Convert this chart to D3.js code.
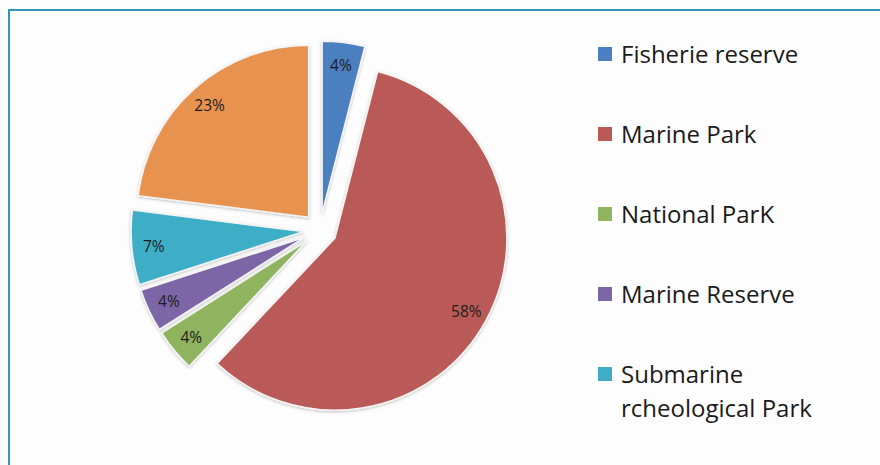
<!DOCTYPE html>
<html>
<head>
<meta charset="utf-8">
<script src="https://cdn.jsdelivr.net/npm/d3@7"></script>
<style>
  body { margin: 0; background: #fff; }
  svg { display: block; }
</style>
</head>
<body>
<div id="chart-area"></div>
<script>
const width = 880, height = 465,
    radius = 172,
    explode = 17;

//--------------------------- DATA
const categories = ["Fisherie reserve", "Marine Park", "National ParK", "Marine Reserve", "Submarine rcheological Park", "Other"];
const values = [4, 58, 4, 4, 7, 23];
const colors = ["#4b7fc0", "#b95a58", "#8fb35f", "#7c66a5", "#3eaec6", "#e7924f"];
// legend shows only the first five entries, last one wraps on two lines
const legendLines = [["Fisherie reserve"], ["Marine Park"], ["National ParK"], ["Marine Reserve"], ["Submarine", "rcheological Park"]];

const data = values.map((v, i) => ({name: categories[i], value: v, color: colors[i]}));

//--------------------------- SVG
const svg = d3.select("#chart-area")
  .append("svg")
    .attr("width", width)
    .attr("height", height);

svg.append("rect")
  .attr("width", width).attr("height", height)
  .attr("fill", "#fdfdfd");

// frame (only top and left edges are visible)
svg.append("path")
  .attr("d", "M9,465 L9,10 L880,10")
  .attr("fill", "none")
  .attr("stroke", "#3196bd")
  .attr("stroke-width", 2);

const defs = svg.append("defs");
const shadow = defs.append("filter").attr("id", "shadow")
  .attr("x", "-20%").attr("y", "-20%").attr("width", "140%").attr("height", "140%");
shadow.append("feDropShadow")
  .attr("dx", 0).attr("dy", 1).attr("stdDeviation", 1.5)
  .attr("flood-color", "#000").attr("flood-opacity", 0.25);

//--------------------------- PIE
const pie = d3.pie().sort(null).value(d => d.value);
const arc = d3.arc().innerRadius(0).outerRadius(radius);
const labelArc = d3.arc().innerRadius(150).outerRadius(150);

const g = svg.append("g")
  .attr("transform", "translate(320, 230)");

const slices = g.selectAll("g.slice")
  .data(pie(data))
  .join("g")
    .attr("class", "slice")
    .attr("transform", d => {
      const a = (d.startAngle + d.endAngle) / 2;
      return `translate(${Math.sin(a) * explode}, ${-Math.cos(a) * explode})`;
    });

slices.append("path")
  .attr("d", arc)
  .attr("fill", d => d.data.color)
  .attr("stroke", "#f4f4f4")
  .attr("stroke-width", 1.5)
  .attr("filter", "url(#shadow)");

slices.append("text")
  .attr("transform", d => `translate(${labelArc.centroid(d)})`)
  .attr("text-anchor", "middle")
  .attr("dy", "0.4em")
  .attr("font-family", "'Open Sans', sans-serif")
  .attr("font-size", 15.5)
  .attr("fill", "#1c1c1c")
  .text(d => d.data.value + "%");

//--------------------------- LEGEND
const legend = svg.append("g")
  .attr("transform", "translate(598, 0)");

const items = legend.selectAll("g")
  .data(legendLines)
  .join("g")
    .attr("transform", (d, i) => `translate(0, ${63 + i * 80})`);

items.append("rect")
  .attr("x", 0).attr("y", -16)
  .attr("width", 14).attr("height", 14)
  .attr("fill", (d, i) => colors[i]);

items.append("text")
  .attr("x", 23)
  .attr("font-family", "'Open Sans', sans-serif")
  .attr("font-size", 24)
  .attr("fill", "#1a1a1a")
  .selectAll("tspan")
  .data(d => d)
  .join("tspan")
    .attr("x", 23)
    .attr("dy", (d, i) => i === 0 ? 0 : 34)
    .text(d => d);
</script>
</body>
</html>
